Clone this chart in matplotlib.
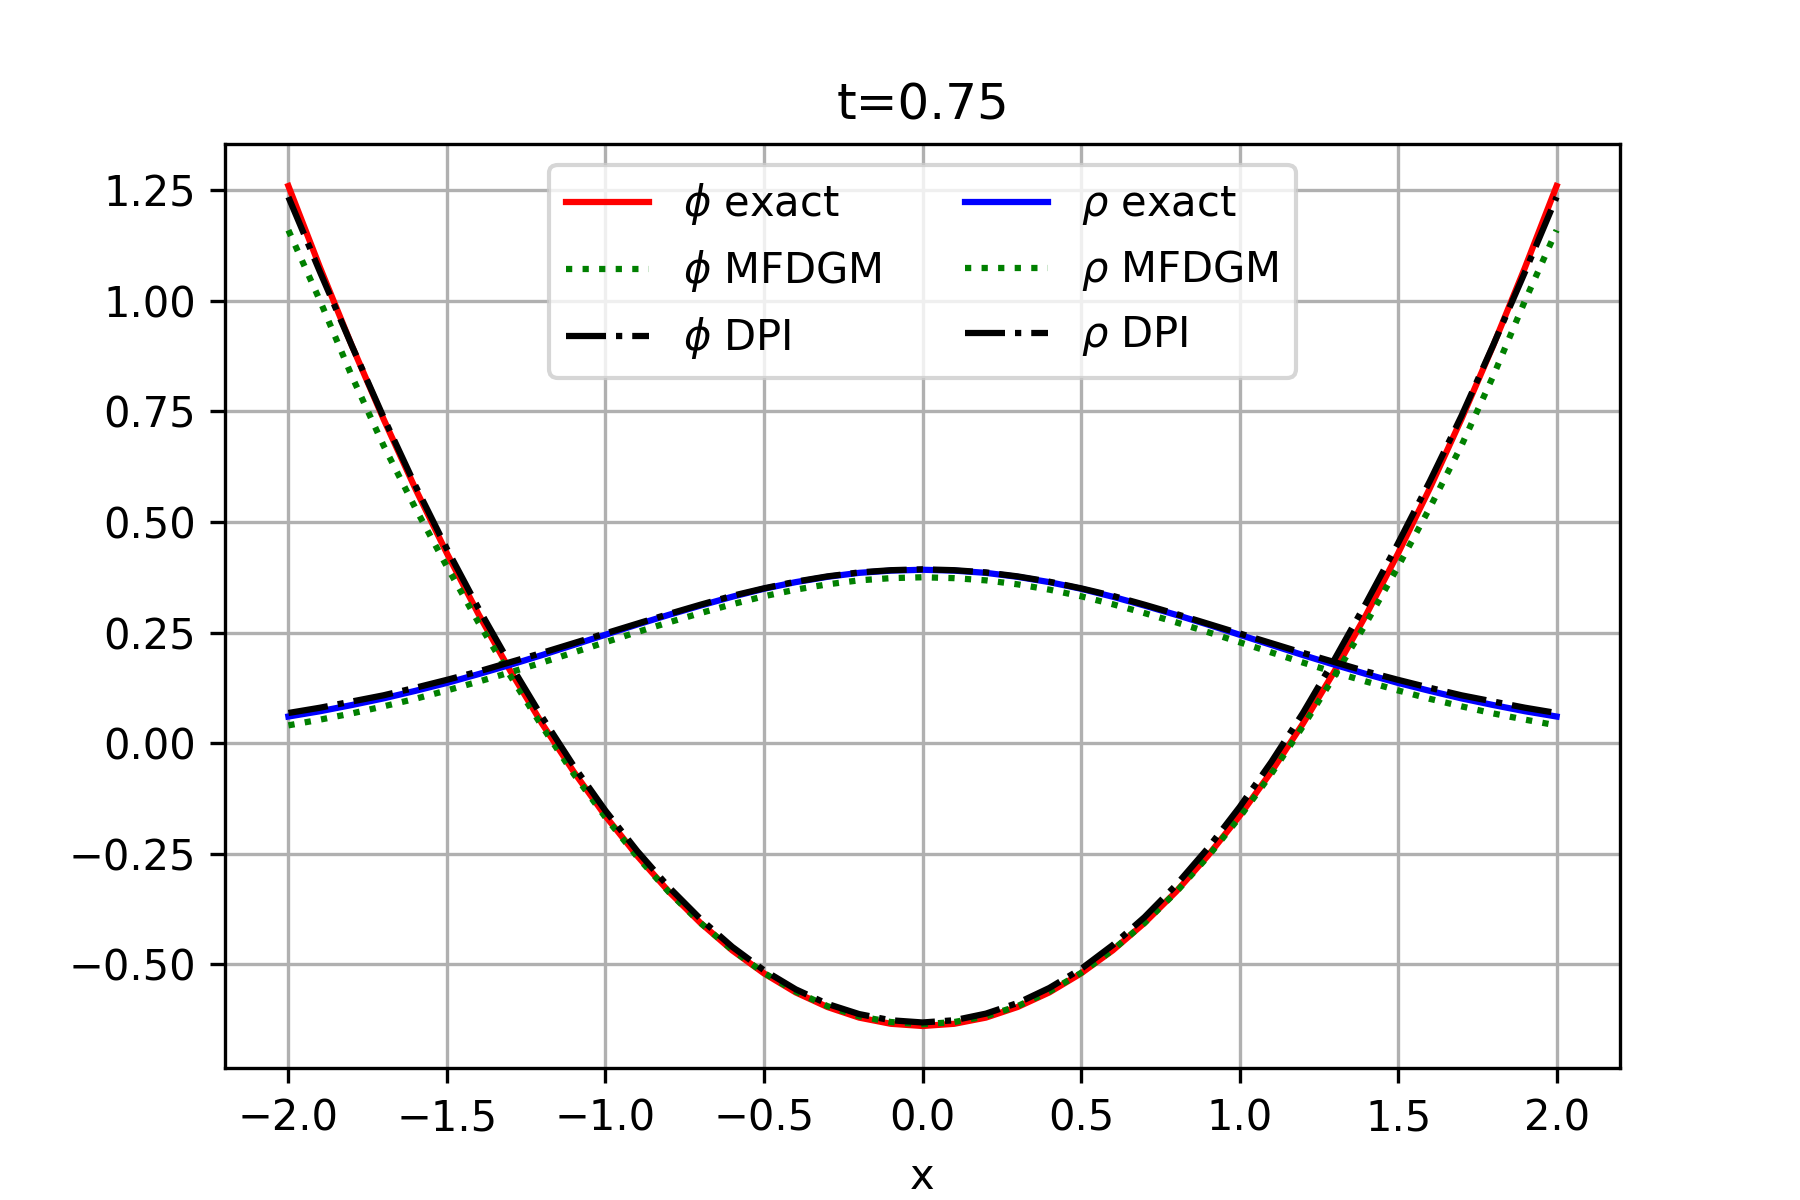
import numpy as np
import matplotlib
matplotlib.use('Agg')
import matplotlib.pyplot as plt

# sample points on [-2, 2]
x = np.linspace(-2.0, 2.0, 41)

# values, right half x = 0.0 ... 2.0 (curves are symmetric)
phi_exact_half = [-0.640, -0.635, -0.621, -0.597, -0.564, -0.521, -0.469, -0.407,
                  -0.336, -0.255, -0.165, -0.065, 0.044, 0.163, 0.291, 0.429,
                  0.576, 0.733, 0.899, 1.075, 1.260]
phi_mfdgm_half = [-0.636, -0.631, -0.618, -0.595, -0.562, -0.520, -0.468, -0.407,
                  -0.337, -0.257, -0.168, -0.070, 0.038, 0.152, 0.272, 0.399,
                  0.532, 0.673, 0.830, 1.000, 1.160]
rho_exact_half = [0.392, 0.390, 0.385, 0.376, 0.364, 0.349, 0.331, 0.311,
                  0.290, 0.268, 0.245, 0.222, 0.199, 0.177, 0.156, 0.136,
                  0.118, 0.101, 0.086, 0.072, 0.060]
rho_mfdgm_half = [0.375, 0.373, 0.368, 0.359, 0.347, 0.332, 0.314, 0.294,
                  0.273, 0.251, 0.228, 0.205, 0.182, 0.160, 0.139, 0.119,
                  0.100, 0.083, 0.067, 0.053, 0.040]
rho_dpi_half = [0.393, 0.391, 0.386, 0.377, 0.365, 0.350, 0.333, 0.313,
                0.292, 0.270, 0.248, 0.226, 0.204, 0.183, 0.162, 0.143,
                0.125, 0.108, 0.094, 0.080, 0.068]

# DPI phi is slightly asymmetric, full range x = -2.0 ... 2.0
phi_dpi = [1.235, 1.065, 0.899, 0.737, 0.583, 0.439, 0.304, 0.178, 0.059, -0.052,
           -0.153, -0.244, -0.326, -0.398, -0.461, -0.514, -0.557, -0.590, -0.613, -0.627,
           -0.632,
           -0.627, -0.612, -0.588, -0.554, -0.511, -0.457, -0.394, -0.321, -0.238, -0.145,
           -0.043, 0.068, 0.190, 0.318, 0.452, 0.592, 0.740, 0.900, 1.065, 1.235]


def mirror(half):
    return list(half[:0:-1]) + list(half)


phi_exact = mirror(phi_exact_half)
phi_mfdgm = mirror(phi_mfdgm_half)
rho_exact = mirror(rho_exact_half)
rho_mfdgm = mirror(rho_mfdgm_half)
rho_dpi = mirror(rho_dpi_half)

fig = plt.figure(figsize=(6, 4), dpi=300)
ax = fig.add_subplot(1, 1, 1)

ax.plot(x, phi_exact, 'r-', label=r'$\phi$ exact')
ax.plot(x, phi_mfdgm, ':', color='green', label=r'$\phi$ MFDGM')
ax.plot(x, phi_dpi, 'k-.', label=r'$\phi$ DPI')
ax.plot(x, rho_exact, 'b-', label=r'$\rho$ exact')
ax.plot(x, rho_mfdgm, ':', color='green', label=r'$\rho$ MFDGM')
ax.plot(x, rho_dpi, 'k-.', label=r'$\rho$ DPI')

ax.set_title('t=0.75')
ax.set_xlabel('x')
ax.grid(True)
ax.legend(loc='upper center', ncol=2)

fig.savefig('out.png', dpi=300)
